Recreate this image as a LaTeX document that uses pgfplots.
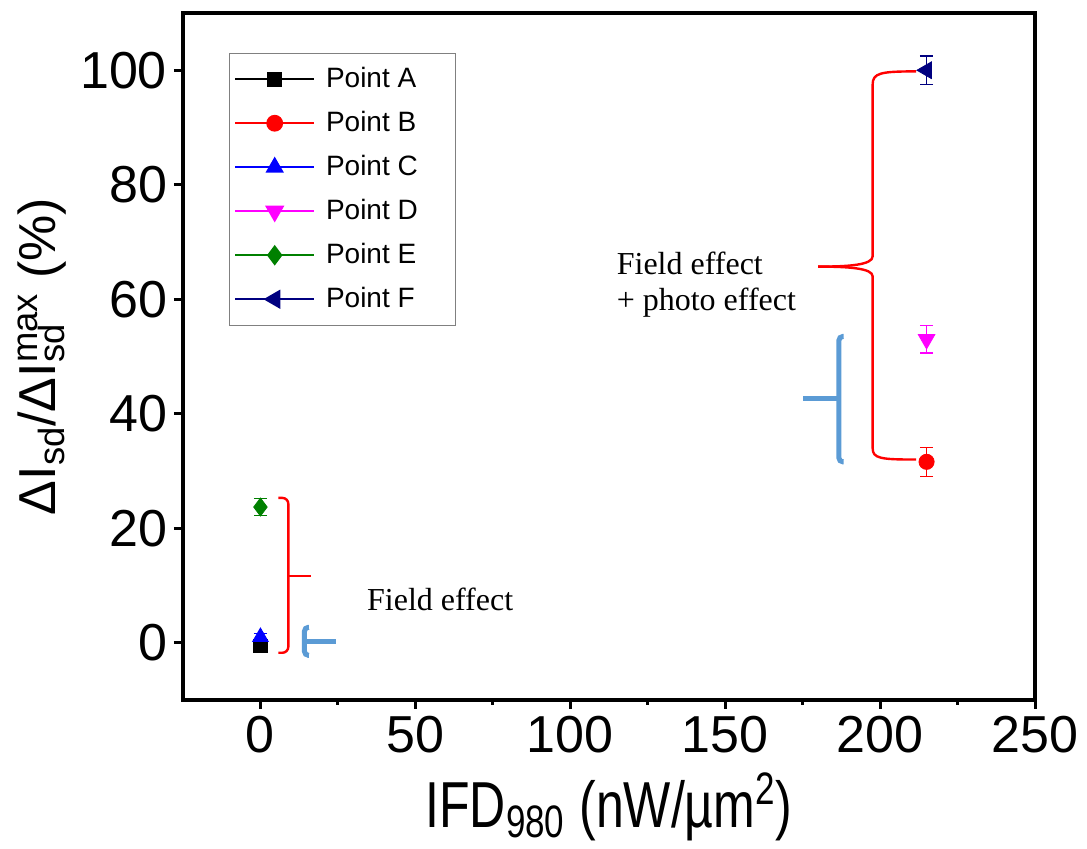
\documentclass[border=0pt]{standalone}
\usepackage{pgfplots}
\pgfplotsset{compat=1.18}
\usepackage{fontspec}
\setmainfont{Liberation Sans}
\newfontfamily\tnr{Liberation Serif}
\definecolor{bblue}{RGB}{91,155,213}
\definecolor{dgreen}{RGB}{0,128,0}
\definecolor{navyc}{RGB}{0,0,128}
\definecolor{magc}{RGB}{255,0,255}
\definecolor{redc}{RGB}{255,0,0}
\definecolor{bluec}{RGB}{0,0,255}
\newcommand\legent[1]{\makebox[62pt][l]{#1}}
\begin{document}
\begin{tikzpicture}
\begin{axis}[
 scale only axis, width=426pt, height=343.5pt,
 xmin=-25, xmax=250, ymin=-10, ymax=110,
 xtick={0,50,...,250}, minor xtick={25,75,...,225},
 ytick={0,20,...,100},
 axis line style={line width=2pt},
 tick style={line width=1.5pt, black},
 major tick length=4.5pt, minor tick length=2.5pt,
 tick align=outside, xtick pos=bottom, ytick pos=left,
 tick label style={font=\fontsize{26}{30}\selectfont},
 /pgf/number format/assume math mode=true,
 xlabel={\scalebox{1}[1.3]{IFD\textsubscript{980} (nW/µm\textsuperscript{2})}},
 xlabel style={font=\fontsize{25}{30}\selectfont, yshift=-3pt},
 ylabel={ΔI\textsubscript{sd}/ΔI\makebox[0pt][l]{\textsubscript{sd}}\textsuperscript{max} (\%)},
 ylabel style={font=\fontsize{26}{30}\selectfont},
 legend style={at={(0.054,0.942)}, anchor=north west, draw=gray, font=\fontsize{14}{16}\selectfont, inner xsep=2.5pt, inner ysep=6pt, row sep=8pt, column sep=5.5pt, nodes={inner sep=0pt, text height=11pt, text depth=3pt}, cells={anchor=west}},
 legend image code/.code={\draw[mark repeat=2,mark phase=2,#1,line width=0.8pt] plot coordinates {(0pt,0pt)(19.75pt,0pt)(39.5pt,0pt)};},
 error bars/error mark options={rotate=90, mark size=3.3pt, line width=0.6pt},
 error bars/error bar style={line width=0.6pt},
 clip=false,
]
\draw[redc, line width=1.2pt] (axis cs:211.6,99.8) .. controls (axis cs:200,99.8) and (axis cs:197.6,99.5) .. (axis cs:197.6,97.5) -- (axis cs:197.6,67.5) .. controls (axis cs:197.6,66) and (axis cs:190,65.7) .. (axis cs:180,65.7);
\draw[redc, line width=1.2pt] (axis cs:180,65.7) .. controls (axis cs:190,65.7) and (axis cs:197.6,65.4) .. (axis cs:197.6,64) -- (axis cs:197.6,34) .. controls (axis cs:197.6,32.2) and (axis cs:200,32) .. (axis cs:211.6,32);
\draw[redc, line width=1.2pt, rounded corners=3pt] (axis cs:5.8,25.3) -- (axis cs:9,25.3) -- (axis cs:9,-1.75) -- (axis cs:5.8,-1.75);
\draw[redc, line width=1.2pt] (axis cs:9,11.7) -- (axis cs:16.2,11.7);
\draw[bblue, line width=2.5pt, rounded corners=2pt] (axis cs:15.6,2.7) -- (axis cs:14.2,2.7) -- (axis cs:14.2,-2.2) -- (axis cs:15.6,-2.2);
\draw[bblue, line width=2.5pt] (axis cs:14.2,0.2) -- (axis cs:24.3,0.2);
\draw[bblue, line width=2.5pt, rounded corners=2pt] (axis cs:188.2,53.5) -- (axis cs:186.7,53.5) -- (axis cs:186.7,31.6) -- (axis cs:188.2,31.6);
\draw[bblue, line width=2.5pt] (axis cs:186.7,42.7) -- (axis cs:175,42.7);
\node[anchor=west, font=\tnr\fontsize{16}{18}\selectfont, inner sep=0pt] at (axis cs:34.3,7.5) {Field effect};
\node[anchor=west, align=left, font=\tnr\fontsize{16}{18}\selectfont, inner sep=0pt] at (axis cs:114.9,62.5) {Field effect\\+ photo effect};

\addplot[black, mark=square*, mark size=3.3pt, error bars/.cd, y dir=both, y explicit] coordinates {(0,-0.5) +- (0,0.4)};
\addlegendentry{\legent{Point A}}
\addplot[redc, mark=*, mark size=3.8pt, error bars/.cd, y dir=both, y explicit] coordinates {(215,31.6) +- (0,2.5)};
\addlegendentry{\legent{Point B}}
\addplot[bluec, mark=triangle*, mark size=4.5pt, error bars/.cd, y dir=both, y explicit] coordinates {(0,1.0) +- (0,0.6)};
\addlegendentry{\legent{Point C}}
\addplot[magc, mark=triangle*, mark options={rotate=180}, mark size=4.8pt, error bars/.cd, y dir=both, y explicit] coordinates {(215,53.0) +- (0,2.4)};
\addlegendentry{\legent{Point D}}
\addplot[dgreen, mark=diamond*, mark size=4.5pt, error bars/.cd, y dir=both, y explicit] coordinates {(0,23.7) +- (0,1.5)};
\addlegendentry{\legent{Point E}}
\addplot[navyc, mark=triangle*, mark options={rotate=90}, mark size=4.8pt, error bars/.cd, y dir=both, y explicit] coordinates {(215,100) +- (0,2.5)};
\addlegendentry{\legent{Point F}}
\end{axis}
\path ([shift={(-91.5pt,-73.5pt)}]current axis.south west) rectangle ([shift={(26pt,6.5pt)}]current axis.north east);
\end{tikzpicture}
\end{document}
